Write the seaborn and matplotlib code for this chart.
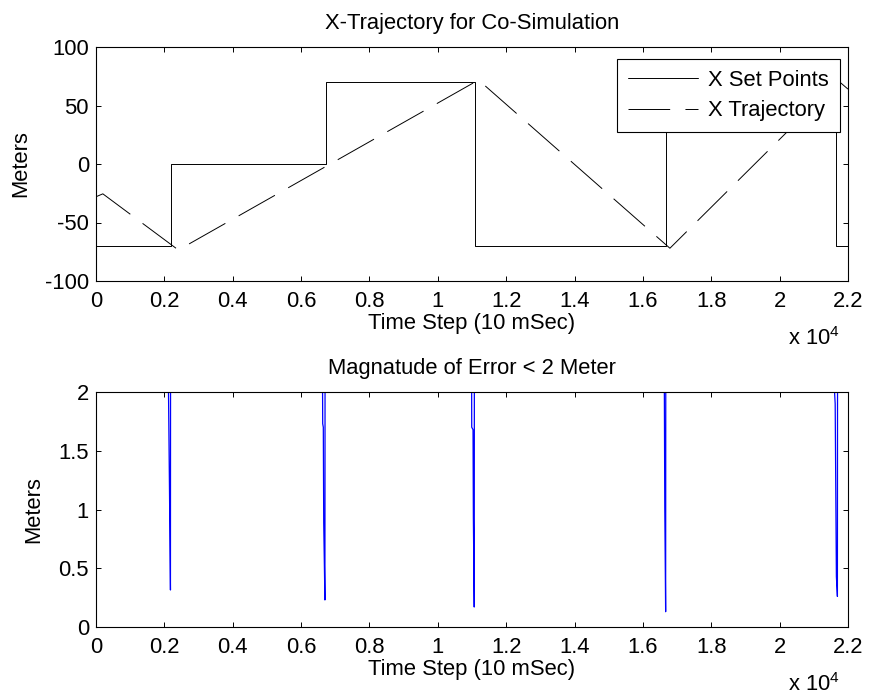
import numpy as np
import pandas as pd
import seaborn as sns
import matplotlib.pyplot as plt

# set points (time step where each value starts)
sp_step = [0, 2185, 6720, 11090, 16680, 21650, 22000]
sp_val = [-70, 0, 70, -70, 70, -70, -70]

# trajectory corners
traj_step = [0, 200, 2410, 11190, 16790, 21720, 22000]
traj_val = [-28, -25.5, -73.5, 71.8, -72, 71, 64]

# error magnitude, only the parts that dip under 2 m matter
err_step = [0,
            2100, 2150, 2178, 2182,
            6620, 6632, 6650, 6662, 6697, 6702,
            10985, 10992, 11030, 11040, 11065, 11070,
            16620, 16640, 16665, 16670,
            21560, 21610, 21625, 21660, 21690, 21695,
            22000]
err_val = [40,
           2.6, 1.16, 0.315, 2.6,
           2.6, 1.73, 1.70, 0.885, 0.23, 2.6,
           2.6, 1.70, 1.68, 0.93, 0.17, 2.6,
           2.6, 1.015, 0.13, 2.6,
           2.6, 1.98, 1.9, 0.43, 0.26, 2.6,
           60]

sns.set_theme(style='ticks', rc={
    'axes.edgecolor': 'black', 'axes.linewidth': 0.8,
    'xtick.direction': 'in', 'ytick.direction': 'in',
    'xtick.top': True, 'ytick.right': True,
    'xtick.major.size': 3.6, 'ytick.major.size': 3.6,
    'xtick.major.width': 0.7, 'ytick.major.width': 0.7,
    'xtick.color': 'black', 'ytick.color': 'black',
    'text.color': 'black', 'axes.labelcolor': 'black',
    'axes.unicode_minus': False,
    'lines.scale_dashes': False,
})
plt.rcParams['font.family'] = ['Liberation Sans', 'DejaVu Sans']
plt.rcParams['mathtext.fontset'] = 'custom'
plt.rcParams['mathtext.rm'] = 'Liberation Sans'
FS = 15.8

fig = plt.figure(figsize=(8.72, 6.98), dpi=100)
ax1 = fig.add_axes([96/872, 1-281/698, 752/872, 234/698])
ax2 = fig.add_axes([96/872, 1-627/698, 752/872, 235/698])

sns.lineplot(x=sp_step, y=sp_val, ax=ax1, color='black', lw=0.7,
             drawstyle='steps-post', estimator=None, label='X Set Points')
sns.lineplot(x=traj_step, y=traj_val, ax=ax1, color='black', lw=0.7,
             linestyle=(0, (30, 11)), estimator=None, label='X Trajectory')
sns.lineplot(x=err_step, y=err_val, ax=ax2, color='#0000ff', lw=0.9,
             estimator=None, sort=False)

xt = np.arange(0, 22001, 2000)
xtl = ['0', '0.2', '0.4', '0.6', '0.8', '1', '1.2', '1.4', '1.6', '1.8', '2', '2.2']
for ax in (ax1, ax2):
    ax.set_xlim(0, 22000)
    ax.set_xticks(xt)
    ax.set_xticklabels(xtl)
    ax.tick_params(axis='x', labelsize=FS, pad=7)
    ax.tick_params(axis='y', labelsize=FS, pad=5)
    ax.set_xlabel('Time Step (10 mSec)', fontsize=FS, labelpad=1)
    ax.set_ylabel('Meters', fontsize=FS, labelpad=10)

ax1.set_ylim(-100, 100)
ax1.set_yticks([-100, -50, 0, 50, 100])
ax1.set_title('X-Trajectory for Co-Simulation', fontsize=FS, pad=13)
ax2.set_ylim(0, 2)
ax2.set_yticks([0, 0.5, 1, 1.5, 2])
ax2.set_yticklabels(['0', '0.5', '1', '1.5', '2'])
ax2.set_title('Magnatude of Error < 2 Meter', fontsize=FS, pad=13)

leg = ax1.legend(loc='upper right', bbox_to_anchor=(840/872, 1-59/698),
                 bbox_transform=fig.transFigure, borderaxespad=0,
                 fontsize=FS, fancybox=False, framealpha=1, edgecolor='black',
                 handlelength=3.2, handletextpad=0.45, borderpad=0.5,
                 labelspacing=0.42)
leg.get_frame().set_linewidth(0.8)

fig.text(840/872, 1-339/698, 'x 10$^{4}$', fontsize=FS, ha='right', va='center')
fig.text(840/872, 1-685/698, 'x 10$^{4}$', fontsize=FS, ha='right', va='center')

fig.savefig('out.png', dpi=100)
